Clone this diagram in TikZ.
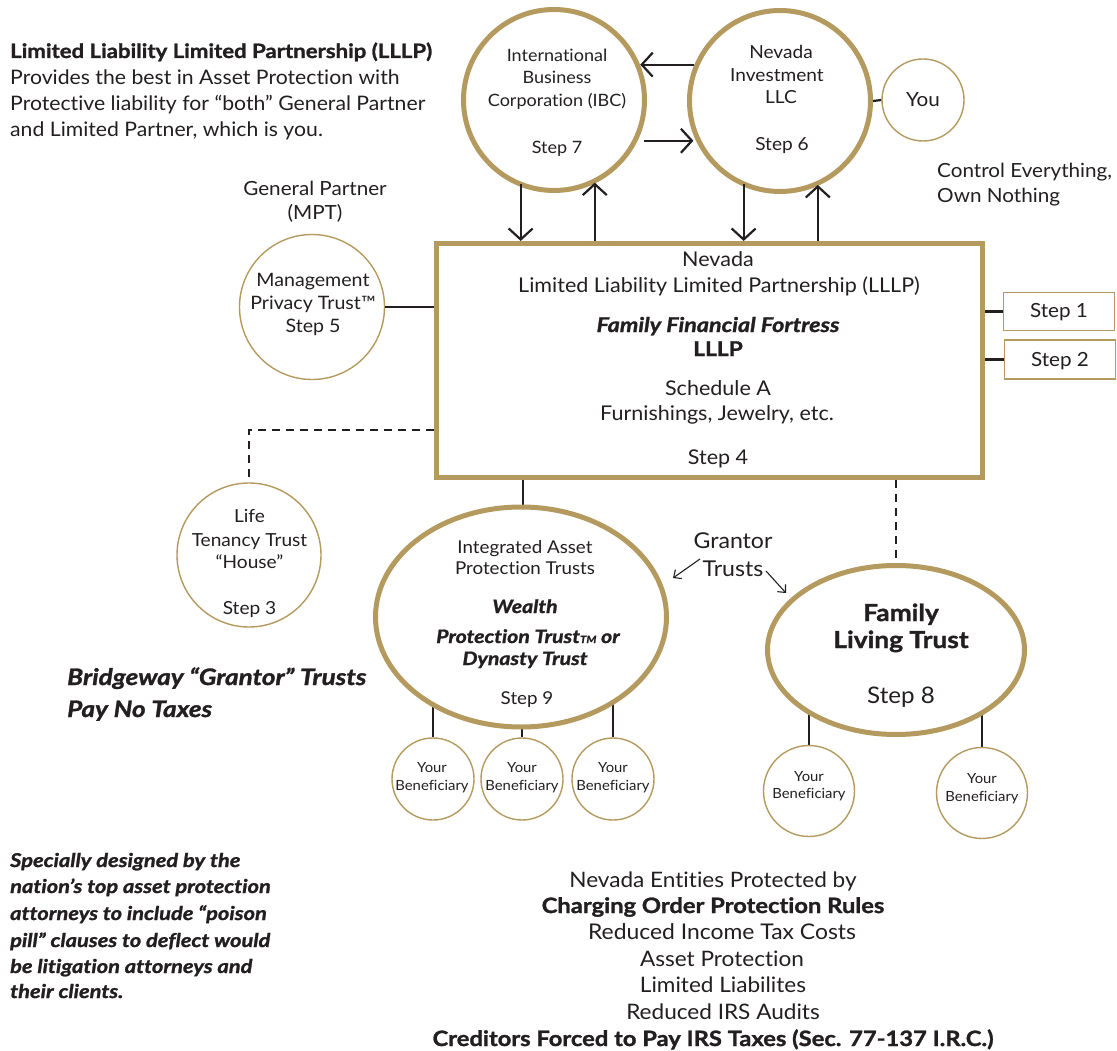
\documentclass[tikz,border=0pt]{standalone}
\usepackage{fontspec}
\setmainfont{Lato}[
  Ligatures=NoCommon,
  UprightFeatures={FakeStretch=1.06},
  ItalicFeatures={FakeStretch=1.06},
  BoldFeatures={FakeStretch=1.12, FakeBold=1.3},
  BoldItalicFeatures={FakeStretch=1.15, FakeBold=1.3}]
\usetikzlibrary{arrows.meta,shapes.geometric}
\pgfdeclarelayer{bg}
\pgfsetlayers{bg,main}
\definecolor{gold}{HTML}{B49A5E}
\definecolor{ink}{HTML}{231F20}
\newcommand\fs[1]{\fontsize{#1}{#1}\selectfont}
\tikzset{
  big/.style={draw=gold, line width=5pt, fill=white, inner sep=0pt},
  thin/.style={draw=gold, line width=1.4pt, fill=white, inner sep=0pt},
  t/.style={anchor=base, inner sep=0pt, text=ink},
  tw/.style={anchor=base west, inner sep=0pt, text=ink},
  conn/.style={draw=ink, line width=2.2pt},
  arr/.style={conn, -{Straight Barb[length=11pt,width=24pt]}},
  sarr/.style={draw=ink, line width=1.1pt, -{Straight Barb[length=6pt,width=11pt]}},
  dsh/.style={draw=ink, line width=2pt, dash pattern=on 8pt off 6pt},
}
\begin{document}
\begin{tikzpicture}[x=1pt,y=-1pt]
\useasboundingbox (0,0) rectangle (1117,1051);
\begin{pgfonlayer}{bg}
\fill[white] (0,0) rectangle (1117,1051);
\end{pgfonlayer}

% ---------- shapes ----------
\node[big, circle, minimum size=181pt] (ibc) at (554,100) {};
\node[big, circle, minimum size=181pt] (nv) at (780,101) {};
\node[thin, circle, minimum size=82pt] (you) at (923,100) {};
\node[big, rectangle, minimum width=546pt, minimum height=234pt] (box) at (709.5,360.5) {};
\node[thin, rectangle, minimum width=111pt, minimum height=38pt] (s1) at (1059,311.5) {};
\node[thin, rectangle, minimum width=111pt, minimum height=39pt] (s2) at (1060,359.5) {};
\node[thin, circle, minimum size=145pt] (mpt) at (312,307) {};
\node[thin, circle, minimum size=144pt] (life) at (249,555) {};
\node[big, ellipse, minimum width=291pt, minimum height=220pt] (integ) at (521,617) {};
\node[big, ellipse, minimum width=257pt, minimum height=169pt] (fam) at (896,650) {};
\node[thin, circle, minimum size=82pt] (b1) at (433,779) {};
\node[thin, circle, minimum size=82pt] (b2) at (522,779) {};
\node[thin, circle, minimum size=82pt] (b3) at (613,779) {};
\node[thin, circle, minimum size=91pt] (f1) at (809,791) {};
\node[thin, circle, minimum size=91pt] (f2) at (982,793) {};

% ---------- connectors ----------
\begin{pgfonlayer}{bg}
\draw[conn] (b1.north) -- (b1.north |- integ.center);
\draw[conn] (b2.north) -- (b2.north |- integ.center);
\draw[conn] (b3.north) -- (b3.north |- integ.center);
\draw[conn] (f1.north) -- (f1.north |- fam.center);
\draw[conn] (f2.north) -- (f2.north |- fam.center);
\draw[conn] (523,360) coordinate (bx1) -- (bx1 |- integ.center);
\end{pgfonlayer}
\draw[conn] (nv.east) -- (you.west);
\draw[conn] (mpt.east) -- (mpt.east -| box.west);
\draw[conn] (box.east |- s1.west) -- (s1.west);
\draw[conn] (box.east |- s2.west) -- (s2.west);
\draw[dsh] (box.west |- 0,430) -| (life.north);
\draw[dsh] (fam.north |- box.south) -- (fam.north);
\draw[arr] (nv.157) -- (ibc.22 |- nv.157);
\draw[arr] ([xshift=6pt]ibc.-26) -- ([xshift=-3pt]nv.-154 |- ibc.-26);
\draw[arr] ([yshift=3pt]ibc.-111) -- (ibc.-111 |- box.north);
\draw[arr] (ibc.-64 |- box.north) -- ([yshift=1pt]ibc.-64);
\draw[arr] ([yshift=3pt]nv.-113) -- (nv.-113 |- box.north);
\draw[arr] (nv.-66 |- box.north) -- ([yshift=1pt]nv.-66);
\coordinate (ga1) at (700,559);
\coordinate (ga2) at (673,578);
\coordinate (gb1) at (766,571);
\coordinate (gb2) at (786,593);
\draw[sarr] (ga1) -- (ga2);
\draw[sarr] (gb1) -- (gb2);

% ---------- texts ----------
\node[tw, font=\fs{19.8}\bfseries] (h1) at (10,58) {Limited Liability Limited Partnership (LLLP)};
\node[tw, font=\fs{20}] (h2) at (10,85) {Provides the best in Asset Protection with};
\node[tw, font=\fs{20}] (h3) at (10,111) {Protective liability for “both” General Partner};
\node[tw, font=\fs{20}] (h4) at (10,137) {and Limited Partner, which is you.};

\node[t, font=\fs{17}] (ibc1) at (557,62) {International};
\node[t, font=\fs{17}] (ibc2) at (557,84) {Business};
\node[t, font=\fs{17}] (ibc3) at (557,107) {Corporation (IBC)};
\node[t, font=\fs{17}] (ibc4) at (557,154) {Step 7};

\node[t, font=\fs{18}] (nv1) at (781,59) {Nevada};
\node[t, font=\fs{18}] (nv2) at (777,82) {Investment};
\node[t, font=\fs{18}] (nv3) at (781,104) {LLC};
\node[t, font=\fs{18}] (nv4) at (782,151) {Step 6};

\node[t, font=\fs{19.5}] (you1) at (923,107) {You};
\node[tw, font=\fs{19.5}] (ce1) at (937,178) {Control Everything,};
\node[tw, font=\fs{19.5}] (ce2) at (937,203) {Own Nothing};

\node[t, font=\fs{19.5}] (gp1) at (315,196) {General Partner};
\node[t, font=\fs{19.5}] (gp2) at (315,220) {(MPT)};
\node[t, font=\fs{18.5}] (mp1) at (313,287) {Management};
\node[t, font=\fs{18.5}] (mp2) at (313,309) {Privacy Trust™};
\node[t, font=\fs{18.5}] (mp3) at (313,332) {Step 5};

\node[t, font=\fs{18}] (lf1) at (249.5,522) {Life};
\node[t, font=\fs{18}] (lf2) at (249.5,546) {Tenancy Trust};
\node[t, font=\fs{18}] (lf3) at (249.5,568) {“House”};
\node[t, font=\fs{18}] (lf4) at (249.5,614) {Step 3};

\node[t, font=\fs{20.3}] (bx1t) at (718,267) {Nevada};
\node[t, font=\fs{20.3}] (bx2t) at (719,293) {Limited Liability Limited Partnership (LLLP)};
\node[t, font=\fs{20.3}\bfseries\itshape] (bx3t) at (718,332) {Family Financial Fortress};
\node[t, font=\fs{20.3}\bfseries] (bx4t) at (718,356) {LLLP};
\node[t, font=\fs{20.3}] (bx5t) at (718,395) {Schedule A};
\node[t, font=\fs{20.3}] (bx6t) at (717,420) {Furnishings, Jewelry, etc.};
\node[t, font=\fs{20.3}] (bx7t) at (718,464) {Step 4};

\node[t, font=\fs{19.5}] (s1t) at (1059,317) {Step 1};
\node[t, font=\fs{19.5}] (s2t) at (1060,366) {Step 2};

\node[t, font=\fs{17.7}] (in1) at (525,553) {Integrated Asset};
\node[t, font=\fs{17.7}] (in2) at (525,574) {Protection Trusts};
\node[t, font=\fs{18.5}\bfseries\itshape] (in3) at (525,613) {Wealth};
\node[t, font=\fs{18.5}\bfseries\itshape] (in4) at (528,643) {Protection Trust{\fs{10}TM} or};
\node[t, font=\fs{18.5}\bfseries\itshape] (in5) at (525,665) {Dynasty Trust};
\node[t, font=\fs{17.7}] (in6) at (527,704) {Step 9};

\foreach \n/\x in {b1/432, b2/522, b3/613}{
  \node[t, font=\fs{14}] (\n y) at (\x,772) {Your};
  \node[t, font=\fs{14}] (\n b) at (\x,790) {Beneficiary};
}
\node[t, font=\fs{14}] (f1y) at (809,781) {Your};
\node[t, font=\fs{14}] (f1b) at (809,798) {Beneficiary};
\node[t, font=\fs{14}] (f2y) at (982,783) {Your};
\node[t, font=\fs{14}] (f2b) at (982,801) {Beneficiary};

\node[t, font=\fs{23.5}\bfseries] (fm1) at (901,621) {Family};
\node[t, font=\fs{23.5}\bfseries] (fm2) at (901,648) {Living Trust};
\node[t, font=\fs{22.8}] (fm3) at (901,703) {Step 8};

\node[t, font=\fs{21.8}] (gr1) at (733,548) {Grantor};
\node[t, font=\fs{21.8}] (gr2) at (733,576) {Trusts};

\node[tw, font=\fs{22.7}\bfseries\itshape] (bw1) at (67,685) {Bridgeway “Grantor” Trusts};
\node[tw, font=\fs{22.7}\bfseries\itshape] (bw2) at (67,717) {Pay No Taxes};

\node[tw, font=\fs{19}\bfseries\itshape] (sp1) at (10,867) {Specially designed by the};
\node[tw, font=\fs{19}\bfseries\itshape] (sp2) at (10,893) {nation’s top asset protection};
\node[tw, font=\fs{19}\bfseries\itshape] (sp3) at (10,920) {attorneys to include “poison};
\node[tw, font=\fs{19}\bfseries\itshape] (sp4) at (10,947) {pill” clauses to deflect would};
\node[tw, font=\fs{19}\bfseries\itshape] (sp5) at (10,973) {be litigation attorneys and};
\node[tw, font=\fs{19}\bfseries\itshape] (sp6) at (10,998) {their clients.};

\node[t, font=\fs{21.3}] (nb1) at (713,887) {Nevada Entities Protected by};
\node[t, font=\fs{21.2}\bfseries] (nb2) at (713,913) {Charging Order Protection Rules};
\node[t, font=\fs{21.6}] (nb3) at (722,939) {Reduced Income Tax Costs};
\node[t, font=\fs{21.3}] (nb4) at (722,966) {Asset Protection};
\node[t, font=\fs{21.3}] (nb5) at (723,992) {Limited Liabilites};
\node[t, font=\fs{21.3}] (nb6) at (723,1019) {Reduced IRS Audits};
\node[t, font=\fs{21.2}\bfseries] (nb7) at (713,1046) {Creditors Forced to Pay IRS Taxes (Sec. 77-137 I.R.C.)};
\end{tikzpicture}
\end{document}
